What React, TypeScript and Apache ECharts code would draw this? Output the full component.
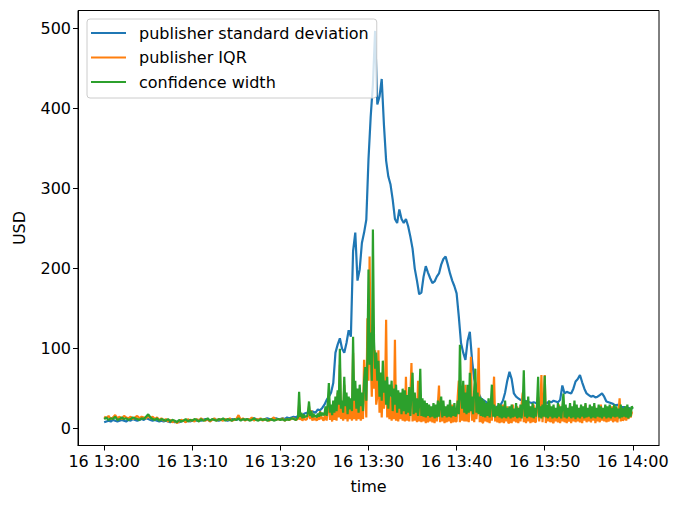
import React, { useEffect, useRef } from "react";
import * as echarts from "echarts";

const seriesNames = ["publisher standard deviation", "publisher IQR", "confidence width"];
const seriesColors = ["#1f77b4", "#ff7f0e", "#2ca02c"];

// standard deviation: one sample every 15 s from 16 13:00
const STD_STEP = 0.25;
const stdDev = [
  8, 9, 10, 9, 11, 10, 9, 10, 11, 10, 9, 11, 10, 12, 11, 10, 11, 12, 11, 13,
  12, 11, 10, 11, 10, 9, 10, 9, 10, 9, 8, 9, 8, 9, 8, 9, 10, 9, 10, 9,
  10, 11, 10, 11, 10, 11, 12, 11, 10, 11, 12, 11, 10, 11, 12, 11, 10, 11, 12, 11,
  11, 12, 11, 12, 11, 12, 11, 12, 13, 12, 11, 12, 11, 12, 13, 12, 11, 12, 13, 12,
  12, 13, 12, 14, 13, 14, 15, 14, 16, 18, 17, 19, 20, 19, 22, 21, 20, 24, 23, 26,
  30, 36, 40, 45, 57, 95, 105, 113, 100, 95, 107, 123, 115, 222, 245, 185, 199, 232, 245, 261,
  337, 390, 430, 497, 405, 415, 437, 380, 335, 315, 305, 286, 262, 257, 274, 262, 257, 262, 253, 240,
  225, 200, 185, 168, 170, 190, 203, 195, 188, 182, 184, 190, 194, 205, 212, 215, 205, 194, 185, 178,
  169, 140, 107, 95, 86, 110, 121, 86, 62, 52, 44, 38, 36, 34, 32, 30, 29, 28, 27, 28,
  30, 35, 45, 60, 71, 62, 44, 40, 38, 36, 36, 35, 34, 33, 32, 33, 32, 31, 30, 32,
  33, 32, 34, 33, 35, 34, 33, 36, 54, 44, 46, 45, 44, 50, 59, 62, 67, 58, 50, 44,
  42, 40, 41, 39, 40, 42, 44, 40, 34, 33, 32, 31, 29, 30, 28, 27, 27, 26, 26, 25, 26,
];

// IQR and confidence width: calm part 13:00-13:21:45 every 15 s,
// busy part 13:22-14:00 every 7.5 s (one row = one minute)
const CALM_STEP = 0.25;
const BUSY_START = 22;
const BUSY_STEP = 0.125;

const iqrCalm = [
  15, 13, 16, 12, 14, 17, 13, 15, 12, 16, 14, 13, 15, 12, 14, 16, 13, 15, 14, 13,
  16, 13, 15, 12, 14, 11, 13, 10, 12, 9, 11, 8, 10, 7, 9, 11, 10, 8, 12, 10,
  11, 9, 12, 10, 13, 11, 10, 12, 9, 11, 13, 10, 12, 11, 10, 12, 11, 13, 10, 11,
  12, 17, 11, 13, 10, 12, 11, 14, 10, 12, 11, 13, 10, 12, 11, 10, 12, 14, 11, 12,
  11, 13, 10, 12, 11, 12, 13, 11,
];
const iqrBusy = [
  12, 30, 11, 15, 10, 13, 12, 11,
  12, 16, 28, 12, 23, 10, 15, 11,
  13, 10, 16, 11, 22, 12, 15, 10,
  12, 22, 10, 25, 40, 11, 20, 9,
  25, 11, 30, 10, 45, 14, 80, 12,
  28, 10, 55, 12, 35, 9, 30, 12,
  30, 10, 95, 12, 50, 10, 45, 12,
  40, 10, 35, 12, 86, 50, 14, 138,
  60, 215, 90, 40, 130, 50, 98, 30,
  40, 98, 20, 60, 14, 50, 25, 40,
  136, 14, 50, 12, 40, 10, 35, 12,
  111, 10, 45, 9, 30, 12, 40, 10,
  35, 9, 65, 10, 30, 9, 40, 82,
  9, 40, 10, 30, 8, 60, 9, 35,
  8, 28, 9, 25, 7, 30, 8, 25,
  9, 22, 8, 25, 7, 28, 9, 30,
  54, 8, 30, 9, 25, 7, 22, 8,
  28, 9, 25, 7, 30, 8, 22, 9,
  9, 40, 60, 8, 45, 10, 35, 9,
  55, 9, 40, 8, 30, 90, 10, 35,
  8, 40, 12, 30, 101, 8, 30, 9,
  7, 25, 9, 30, 8, 22, 7, 28,
  10, 35, 65, 9, 22, 8, 25, 7,
  25, 8, 30, 7, 22, 9, 28, 7,
  8, 25, 7, 30, 9, 22, 8, 28,
  7, 25, 9, 30, 45, 8, 30, 7,
  22, 9, 28, 7, 25, 8, 30, 9,
  8, 28, 40, 9, 25, 67, 8, 30,
  67, 7, 25, 9, 30, 8, 22, 9,
  7, 25, 9, 22, 8, 30, 7, 25,
  9, 35, 8, 25, 7, 20, 9, 28,
  7, 22, 9, 30, 8, 25, 9, 22,
  8, 28, 7, 20, 10, 30, 8, 22,
  9, 25, 8, 20, 10, 28, 7, 22,
  9, 25, 8, 30, 10, 22, 9, 28,
  8, 25, 9, 20, 10, 28, 8, 22,
  9, 25, 8, 20, 38, 9, 22, 10,
  12, 25, 10, 22, 12, 25, 14, 20,
  20,
];

const confCalm = [
  12, 14, 11, 13, 12, 15, 11, 12, 14, 12, 13, 11, 12, 14, 13, 12, 11, 13, 12, 15,
  18, 14, 12, 11, 13, 10, 12, 11, 10, 12, 9, 11, 10, 8, 11, 9, 10, 12, 9, 11,
  10, 12, 11, 9, 12, 10, 11, 13, 10, 12, 11, 10, 12, 11, 13, 10, 12, 11, 10, 12,
  11, 13, 10, 12, 11, 12, 10, 11, 13, 11, 10, 12, 11, 12, 10, 11, 12, 10, 11, 12,
  11, 12, 10, 12, 11, 13, 12, 11,
];
const confBusy = [
  14, 46, 15, 20, 13, 18, 14, 16,
  15, 20, 34, 16, 22, 14, 19, 15,
  17, 14, 19, 15, 21, 16, 20, 17,
  18, 28, 16, 32, 57, 20, 30, 17,
  35, 20, 40, 22, 48, 30, 100, 25,
  35, 20, 65, 28, 45, 18, 40, 24,
  38, 22, 115, 35, 60, 25, 50, 20,
  55, 28, 45, 22, 60, 77, 35, 90,
  199, 80, 120, 60, 249, 110, 75, 95,
  60, 85, 40, 70, 35, 85, 45, 60,
  30, 65, 25, 55, 40, 60, 22, 50,
  30, 55, 20, 48, 25, 45, 18, 50,
  22, 48, 18, 42, 20, 52, 16, 45,
  70, 18, 45, 20, 38, 16, 30, 75,
  16, 38, 15, 35, 14, 32, 16, 30,
  14, 28, 15, 32, 13, 30, 14, 35,
  15, 30, 40, 14, 35, 16, 28, 14,
  30, 15, 36, 14, 28, 16, 32, 15,
  20, 35, 18, 105, 40, 25, 60, 20,
  45, 18, 55, 20, 70, 22, 40, 18,
  50, 75, 20, 45, 18, 40, 16, 38,
  15, 35, 14, 32, 16, 38, 14, 30,
  55, 15, 30, 14, 28, 16, 32, 14,
  30, 13, 28, 14, 35, 13, 26, 15,
  28, 13, 30, 14, 25, 15, 32, 13,
  26, 14, 30, 13, 28, 73, 15, 35,
  13, 40, 15, 28, 14, 32, 13, 26,
  15, 30, 65, 14, 28, 13, 30, 15,
  66, 14, 30, 13, 35, 15, 28, 13,
  30, 14, 26, 13, 32, 15, 28, 13,
  28, 44, 14, 30, 13, 26, 15, 32,
  13, 28, 14, 35, 12, 30, 14, 26,
  13, 30, 15, 28, 13, 32, 14, 26,
  15, 30, 13, 28, 14, 32, 13, 26,
  15, 30, 14, 28, 13, 26, 15, 30,
  13, 28, 14, 30, 13, 26, 15, 30,
  14, 28, 15, 25, 13, 30, 14, 26,
  15, 28, 14, 30, 13, 26, 15, 28,
  25,
];

// minutes after 16 13:00
const xTicks = [0, 10, 20, 30, 40, 50, 60];
const yTicks = [0, 100, 200, 300, 400, 500];

const FONT = "DejaVu Sans";
const FS = 16;

function uniformPairs(vals: number[], start: number, step: number) {
  return vals.map((v, i) => [start + i * step, v]);
}

function fmtTime(m: number) {
  const h = 13 + Math.floor(m / 60);
  const mm = Math.round(m % 60);
  return `16 ${h}:${String(mm).padStart(2, "0")}`;
}

export default function App() {
  const ref = useRef<HTMLDivElement>(null);
  useEffect(() => {
    if (!ref.current) return;
    const chart = echarts.init(ref.current, null, { renderer: "svg" });
    const seriesData = [
      uniformPairs(stdDev, 0, STD_STEP),
      uniformPairs(iqrCalm, 0, CALM_STEP).concat(uniformPairs(iqrBusy, BUSY_START, BUSY_STEP)),
      uniformPairs(confCalm, 0, CALM_STEP).concat(uniformPairs(confBusy, BUSY_START, BUSY_STEP)),
    ];
    chart.setOption({
      animation: false,
      backgroundColor: "#ffffff",
      textStyle: { fontFamily: FONT },
      grid: {
        left: 78,
        right: 21,
        top: 10.5,
        bottom: 61.5,
        show: true,
        borderColor: "#000",
        borderWidth: 1,
        backgroundColor: "transparent",
      },
      xAxis: {
        type: "value",
        min: -2.97,
        max: 62.97,
        name: "time",
        nameLocation: "middle",
        nameGap: 33,
        nameTextStyle: { fontSize: FS, color: "#000", fontFamily: FONT },
        axisLine: { show: true, onZero: false, lineStyle: { color: "#000", width: 1 } },
        axisTick: { show: true, customValues: xTicks, length: 5, lineStyle: { color: "#000", width: 1 } },
        axisLabel: { customValues: xTicks, formatter: fmtTime, fontSize: FS, color: "#000", margin: 8, fontFamily: FONT },
        splitLine: { show: false },
      },
      yAxis: {
        type: "value",
        min: -21,
        max: 522.5,
        name: "USD",
        nameLocation: "middle",
        nameGap: 51,
        nameTextStyle: { fontSize: FS, color: "#000", fontFamily: FONT },
        axisLine: { show: true, onZero: false, lineStyle: { color: "#000", width: 1 } },
        axisTick: { show: true, customValues: yTicks, length: 5, lineStyle: { color: "#000", width: 1 } },
        axisLabel: { customValues: yTicks, fontSize: FS, color: "#000", margin: 7, fontFamily: FONT },
        splitLine: { show: false },
      },
      legend: {
        orient: "vertical",
        left: 87,
        top: 19,
        itemWidth: 35,
        itemHeight: 14,
        itemGap: 8.5,
        padding: [6, 8, 8, 3],
        backgroundColor: "rgba(255,255,255,0.8)",
        borderColor: "#cccccc",
        borderWidth: 1,
        borderRadius: 3,
        data: seriesNames,
        itemStyle: { opacity: 0 },
        textStyle: { fontSize: FS, color: "#000", fontFamily: FONT, padding: [0, 0, 0, 8] },
      },
      series: seriesData.map((data, k) => ({
        name: seriesNames[k],
        type: "line",
        data,
        symbol: "none",
        showSymbol: false,
        color: seriesColors[k],
        lineStyle: { color: seriesColors[k], width: 2.2 },
      })),
    });
    return () => chart.dispose();
  }, []);
  return <div ref={ref} style={{ position: "fixed", left: 0, top: 0, width: 680, height: 507 }} />;
}
